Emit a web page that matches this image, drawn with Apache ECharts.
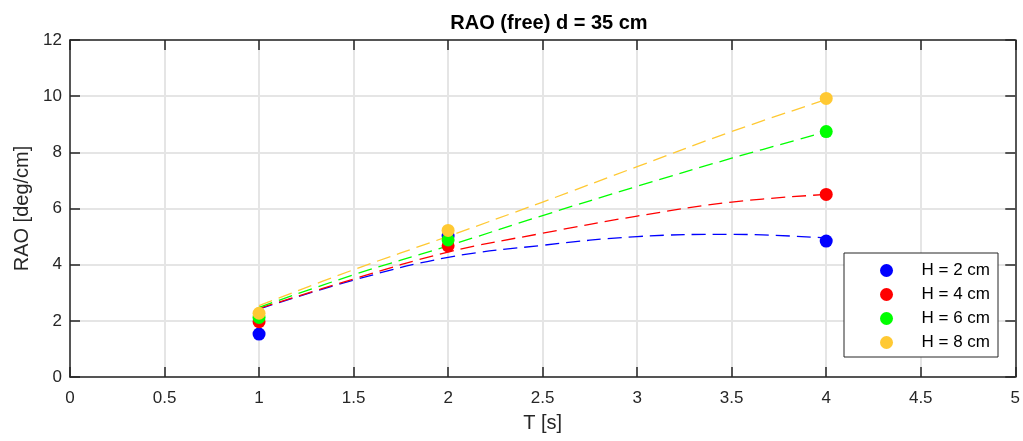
<!DOCTYPE html>
<html>
<head>
<meta charset="utf-8">
<script src="https://cdn.jsdelivr.net/npm/echarts@6/dist/echarts.min.js"></script>
<style>html,body{margin:0;padding:0;background:#fff}#c{width:1023px;height:441px}</style>
</head>
<body>
<div id="c"></div>
<script>
// measured points
const periods = [1, 2, 4];
const seriesNames = ['H = 2 cm', 'H = 4 cm', 'H = 6 cm', 'H = 8 cm'];
const raoH2 = [1.53, 5.02, 4.84];
const raoH4 = [1.97, 4.67, 6.50];
const raoH6 = [2.12, 4.88, 8.74];
const raoH8 = [2.27, 5.22, 9.92];
// fitted dashed curves
const fitT = [1, 1.5, 2, 2.5, 3, 3.5, 4];
const fitH2 = [2.42, 3.45, 4.26, 4.69, 5.00, 5.08, 4.95];
const fitH4 = [2.44, 3.49, 4.45, 5.12, 5.73, 6.23, 6.50];
const fitH6 = [2.48, 3.64, 4.67, 5.75, 6.79, 7.79, 8.73];
const fitH8 = [2.54, 3.82, 5.01, 6.23, 7.49, 8.74, 9.88];
const xTicks = [0, 0.5, 1, 1.5, 2, 2.5, 3, 3.5, 4, 4.5, 5];
const yTicks = [0, 2, 4, 6, 8, 10, 12];

const colors = ['#0000ff', '#ff0000', '#00ff00', '#ffc933'];
const pts = [raoH2, raoH4, raoH6, raoH8];
const fits = [fitH2, fitH4, fitH6, fitH8];
const FONT = 'Liberation Sans, Arial, Helvetica, sans-serif';
const AX = '#262626';
const GRID = '#e5e5e5';

const series = [];
fits.forEach((f, i) => {
  series.push({
    type: 'line', name: 'fit' + i, data: fitT.map((t, k) => [t, f[k]]),
    symbol: 'none', smooth: 0.4, silent: true, z: 2,
    lineStyle: { color: colors[i], width: 1.3, type: [14, 7] }
  });
});
pts.forEach((p, i) => {
  series.push({
    type: 'scatter', name: seriesNames[i], data: periods.map((t, k) => [t, p[k]]),
    symbol: 'circle', symbolSize: 13, z: 5,
    itemStyle: { color: colors[i], opacity: 1 }
  });
});

const chart = echarts.init(document.getElementById('c'), null, { renderer: 'canvas' });
chart.setOption({
  animation: false,
  backgroundColor: '#ffffff',
  title: {
    text: 'RAO (free) d = 35 cm', left: 544, top: 8, textAlign: 'center',
    textStyle: { fontFamily: FONT, fontSize: 20, fontWeight: 'bold', color: '#000' }
  },
  grid: { left: 70, right: 5, top: 40, bottom: 64, containLabel: false },
  legend: {
    data: seriesNames, orient: 'vertical', right: 25, top: 253,
    backgroundColor: '#fff', borderColor: AX, borderWidth: 1,
    padding: [9, 8, 6, 36], itemGap: 7, itemWidth: 60, itemHeight: 13,
    icon: 'circle',
    textStyle: { fontFamily: FONT, fontSize: 17, color: '#000', lineHeight: 16 }
  },
  xAxis: [{
    type: 'value', min: 0, max: 5, interval: 0.5, position: 'bottom',
    name: 'T [s]', nameLocation: 'middle', nameGap: 36,
    nameTextStyle: { fontFamily: FONT, fontSize: 20, color: AX },
    axisLine: { show: true, onZero: false, lineStyle: { color: AX, width: 1.5 } },
    axisTick: { show: true, inside: true, length: 10, lineStyle: { color: AX, width: 1.5 } },
    axisLabel: { fontFamily: FONT, fontSize: 17, color: AX, margin: 13,
      formatter: v => xTicks.includes(v) ? String(v) : '' },
    splitLine: { show: true, lineStyle: { color: GRID, width: 2 } }
  }, {
    type: 'value', min: 0, max: 5, interval: 0.5, position: 'top',
    axisLine: { show: true, onZero: false, lineStyle: { color: AX, width: 1.5 } },
    axisTick: { show: true, inside: true, length: 10, lineStyle: { color: AX, width: 1.5 } },
    axisLabel: { show: false }, splitLine: { show: false }
  }],
  yAxis: [{
    type: 'value', min: 0, max: 12, interval: 2, position: 'left',
    name: 'RAO [deg/cm]', nameLocation: 'middle', nameGap: 34, nameRotate: 90,
    nameTextStyle: { fontFamily: FONT, fontSize: 20, color: AX },
    axisLine: { show: true, onZero: false, lineStyle: { color: AX, width: 1.5 } },
    axisTick: { show: true, inside: true, length: 10, lineStyle: { color: AX, width: 1.5 } },
    axisLabel: { fontFamily: FONT, fontSize: 17, color: AX, margin: 8,
      formatter: v => yTicks.includes(v) ? String(v) : '' },
    splitLine: { show: true, lineStyle: { color: GRID, width: 2 } }
  }, {
    type: 'value', min: 0, max: 12, interval: 2, position: 'right',
    axisLine: { show: true, onZero: false, lineStyle: { color: AX, width: 1.5 } },
    axisTick: { show: true, inside: true, length: 10, lineStyle: { color: AX, width: 1.5 } },
    axisLabel: { show: false }, splitLine: { show: false }
  }],
  series: series
});
</script>
</body>
</html>
